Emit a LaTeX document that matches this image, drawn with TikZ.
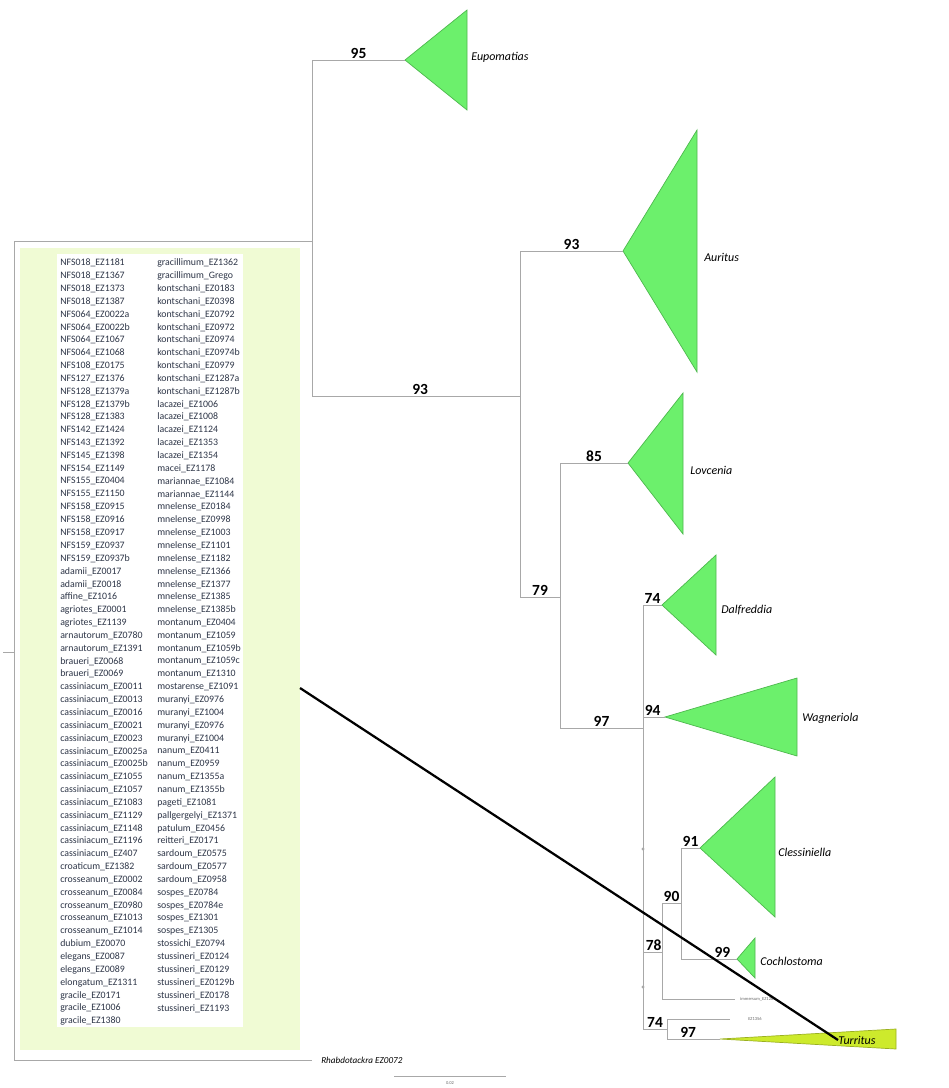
\documentclass[tikz,border=0pt]{standalone}
\usepackage{fontspec}
\setmainfont{Carlito}
\usepackage{xcolor}
\usepackage{tikz}
\usetikzlibrary{calc}
\definecolor{branch}{HTML}{A8A8A8}
\definecolor{cladefill}{HTML}{6CF06C}
\definecolor{cladeedge}{HTML}{4DB84D}
\definecolor{turfill}{HTML}{CDEA2C}
\definecolor{turedge}{HTML}{9AB020}
\definecolor{listbg}{HTML}{F0FBD4}
\definecolor{listtext}{HTML}{2E3648}

\begin{document}
\begin{tikzpicture}[x=0.025cm,y=-0.025cm,
  br/.style={draw=branch,line width=0.7pt},
  clade/.style={fill=cladefill,draw=cladeedge,line width=0.5pt},
  boot/.style={font=\bfseries\fontsize{11}{11}\selectfont,above,inner sep=0.8pt},
  taxon/.style={font=\itshape\fontsize{8.5}{10}\selectfont,anchor=west,inner sep=0pt},
  item/.style={font=\fontsize{7}{9}\selectfont,anchor=west,inner sep=0pt,text=listtext},
  tinylab/.style={font=\fontsize{3.2}{4}\selectfont,anchor=west,inner sep=0pt,text=black!60},
  link/.style={draw=black,line width=1.6pt}
]
\useasboundingbox (0,0) rectangle (949,1088);

% list of sampled specimens
\fill[listbg] (20,248) rectangle (300,1050);
\fill[white] (57,254) rectangle (243,1027);
\coordinate (boxR) at (300,688);
\foreach \nm [count=\i] in {NFS018\_EZ1181,NFS018\_EZ1367,NFS018\_EZ1373,NFS018\_EZ1387,
  NFS064\_EZ0022a,NFS064\_EZ0022b,NFS064\_EZ1067,NFS064\_EZ1068,NFS108\_EZ0175,
  NFS127\_EZ1376,NFS128\_EZ1379a,NFS128\_EZ1379b,NFS128\_EZ1383,NFS142\_EZ1424,
  NFS143\_EZ1392,NFS145\_EZ1398,NFS154\_EZ1149,NFS155\_EZ0404,NFS155\_EZ1150,
  NFS158\_EZ0915,NFS158\_EZ0916,NFS158\_EZ0917,NFS159\_EZ0937,NFS159\_EZ0937b,
  adamii\_EZ0017,adamii\_EZ0018,affine\_EZ1016,agriotes\_EZ0001,agriotes\_EZ1139,
  arnautorum\_EZ0780,arnautorum\_EZ1391,braueri\_EZ0068,braueri\_EZ0069,
  cassiniacum\_EZ0011,cassiniacum\_EZ0013,cassiniacum\_EZ0016,cassiniacum\_EZ0021,
  cassiniacum\_EZ0023,cassiniacum\_EZ0025a,cassiniacum\_EZ0025b,cassiniacum\_EZ1055,
  cassiniacum\_EZ1057,cassiniacum\_EZ1083,cassiniacum\_EZ1129,cassiniacum\_EZ1148,
  cassiniacum\_EZ1196,cassiniacum\_EZ407,croaticum\_EZ1382,crosseanum\_EZ0002,
  crosseanum\_EZ0084,crosseanum\_EZ0980,crosseanum\_EZ1013,crosseanum\_EZ1014,
  dubium\_EZ0070,elegans\_EZ0087,elegans\_EZ0089,elongatum\_EZ1311,gracile\_EZ0171,
  gracile\_EZ1006,gracile\_EZ1380}
  \node[item] (la\i) at (60,{263+12.85*(\i-1)}) {\nm};
\foreach \nm [count=\i] in {gracillimum\_EZ1362,gracillimum\_Grego,kontschani\_EZ0183,
  kontschani\_EZ0398,kontschani\_EZ0792,kontschani\_EZ0972,kontschani\_EZ0974,
  kontschani\_EZ0974b,kontschani\_EZ0979,kontschani\_EZ1287a,kontschani\_EZ1287b,
  lacazei\_EZ1006,lacazei\_EZ1008,lacazei\_EZ1124,lacazei\_EZ1353,lacazei\_EZ1354,
  macei\_EZ1178,mariannae\_EZ1084,mariannae\_EZ1144,mnelense\_EZ0184,mnelense\_EZ0998,
  mnelense\_EZ1003,mnelense\_EZ1101,mnelense\_EZ1182,mnelense\_EZ1366,mnelense\_EZ1377,
  mnelense\_EZ1385,mnelense\_EZ1385b,montanum\_EZ0404,montanum\_EZ1059,
  montanum\_EZ1059b,montanum\_EZ1059c,montanum\_EZ1310,mostarense\_EZ1091,
  muranyi\_EZ0976,muranyi\_EZ1004,muranyi\_EZ0976,muranyi\_EZ1004,nanum\_EZ0411,
  nanum\_EZ0959,nanum\_EZ1355a,nanum\_EZ1355b,pageti\_EZ1081,pallgergelyi\_EZ1371,
  patulum\_EZ0456,reitteri\_EZ0171,sardoum\_EZ0575,sardoum\_EZ0577,sardoum\_EZ0958,
  sospes\_EZ0784,sospes\_EZ0784e,sospes\_EZ1301,sospes\_EZ1305,stossichi\_EZ0794,
  stussineri\_EZ0124,stussineri\_EZ0129,stussineri\_EZ0129b,stussineri\_EZ0178,
  stussineri\_EZ1193}
  \node[item] (lb\i) at (157,{263+12.85*(\i-1)}) {\nm};

% internal nodes
\coordinate (root0) at (3,652);
\coordinate (R) at (14,652);
\coordinate (A) at (312,241);
\coordinate (B) at (520,396);
\coordinate (C) at (560,597);
\coordinate (D) at (643,728);
\coordinate (E) at (662,952);
\coordinate (G) at (681,903);
\coordinate (F) at (667,1029);
% tips
\coordinate (eup) at (405,60);
\coordinate (aur) at (623,251);
\coordinate (lov) at (628,463);
\coordinate (dal) at (662,605);
\coordinate (wag) at (665,717);
\coordinate (cle) at (700,848);
\coordinate (coc) at (737,959);
\coordinate (imm) at (735,999);
\coordinate (ez56) at (730,1019);
\coordinate (tur) at (720,1039);
\coordinate (rh) at (312,1060);

% collapsed clades
\draw[clade] (eup) -- (467,10) -- (467,110) -- cycle;
\draw[clade] (aur) -- (697,130) -- (697,372) -- cycle;
\draw[clade] (lov) -- (683,393) -- (683,534) -- cycle;
\draw[clade] (dal) -- (716,555) -- (716,655) -- cycle;
\draw[clade] (wag) -- (797,678) -- (797,756) -- cycle;
\draw[clade] (cle) -- (775,777) -- (775,917) -- cycle;
\draw[clade] (coc) -- (755,938) -- (755,978) -- cycle;
\draw[fill=turfill,draw=turedge,line width=0.5pt] (tur) -- (896,1029) -- (896,1049) -- cycle;

% branches
\draw[br] (root0) -- (R);
\draw[br] (R) |- (A);
\draw[br] (R) |- (rh);
\draw[br] (A) |- node[boot,pos=0.75] {95} (eup);
\draw[br] (A) |- node[boot,pos=0.76] {93} (B);
\draw[br] (B) |- node[boot,pos=0.75] {93} (aur);
\draw[br] (B) |- node[boot,pos=0.75] {79} (C);
\draw[br] (C) |- node[boot,pos=0.75] {85} (lov);
\draw[br] (C) |- node[boot,pos=0.75] {97} (D);
\draw[br] (D) |- node[boot,pos=0.75] {74} (dal);
\draw[br] (D) |- node[boot,pos=0.72] {94} (wag);
\draw[br] (D) |- node[boot,pos=0.78] {78} (E);
\draw[br] (D) |- node[boot,pos=0.75] {74} (F);
\draw[br] (E) |- node[boot,pos=0.75] {90} (G);
\draw[br] (E) |- (imm);
\draw[br] (G) |- node[boot,pos=0.75] {91} (cle);
\draw[br] (G) |- node[boot,pos=0.87] {99} (coc);
\draw[br] (F) |- (ez56);
\draw[br] (F) |- node[boot,pos=0.7] {97} (tur);
\fill[branch] (643,849) circle (1.6);
\fill[branch] (643,987) circle (1.6);

% tip labels
\node[taxon] (eupL) at (471,57) {Eupomatias};
\node[taxon] (aurL) at (704,257) {Auritus};
\node[taxon] (lovL) at (690,470) {Lovcenia};
\node[taxon] (dalL) at (721,610) {Dalfreddia};
\node[taxon] (wagL) at (802,718) {Wagneriola};
\node[taxon] (cleL) at (778,852) {Clessiniella};
\node[taxon] (cocL) at (760,961) {Cochlostoma};
\node[taxon] (turL) at (838,1040) {Turritus};
\node[tinylab] (immL) at (740,999) {immersum\_EZ1283};
\node[tinylab] (ez56L) at (748,1019) {EZ1356};
\node[taxon,font=\itshape\fontsize{6.5}{8}\selectfont] (rhL) at (321,1060) {Rhabdotackra EZ0072};

% scale bar
\coordinate (sc0) at (394,1076);
\coordinate (sc1) at (506,1076);
\draw[br,line width=0.5pt] (sc0) -- (sc1);
\node[tinylab,anchor=center] (scL) at (450,1083) {0.02};

% link from the list to Turritus
\draw[link] (boxR) -- (turL.west);
\end{tikzpicture}
\end{document}
